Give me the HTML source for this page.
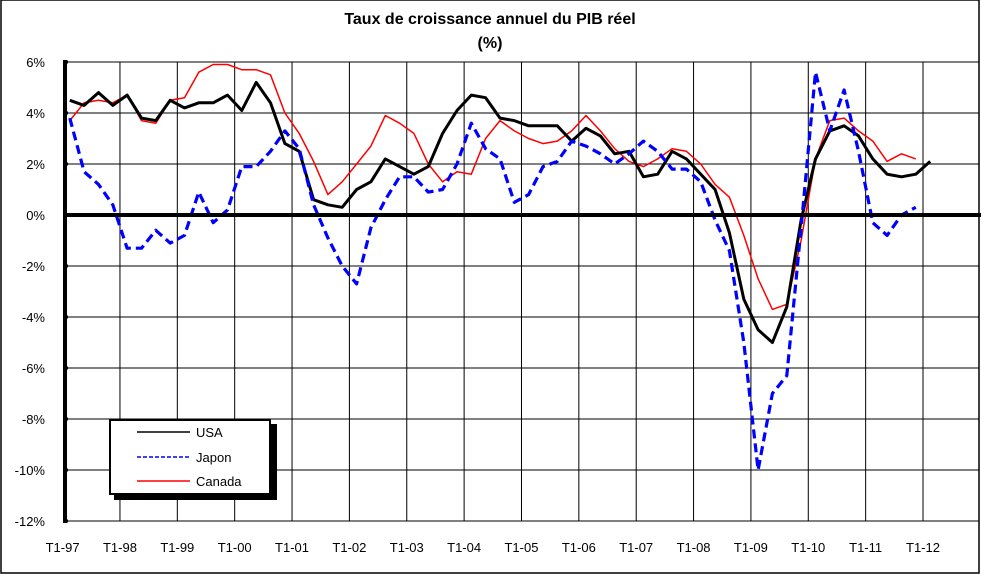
<!DOCTYPE html>
<html><head><meta charset="utf-8"><style>
html,body{margin:0;padding:0;background:#fff;}
svg{display:block;font-family:"Liberation Sans",Arial,sans-serif;}
</style></head><body>
<svg id="c" width="981" height="574" viewBox="0 0 981 574" xmlns="http://www.w3.org/2000/svg">
<rect x="1" y="0" width="978" height="573" fill="#fff" stroke="#000" stroke-width="1.5"/>
<text x="490" y="24" text-anchor="middle" font-size="16" font-weight="bold">Taux de croissance annuel du PIB réel</text>
<text x="490" y="48" text-anchor="middle" font-size="16" font-weight="bold">(%)</text>
<g id="grid" stroke="#000" stroke-width="1"></g>
<g id="lbl" font-size="13" fill="#000"></g>
<g id="series" fill="none"></g>
<g>
<rect x="114" y="424" width="163" height="76" fill="#000"/>
<rect x="110" y="420" width="160" height="74" fill="#fff" stroke="#000" stroke-width="2"/>
<line x1="137" y1="432" x2="190" y2="432" stroke="#000" stroke-width="1.5"/>
<line x1="137" y1="457" x2="190" y2="457" stroke="#00f" stroke-width="1.5" stroke-dasharray="4,2"/>
<line x1="137" y1="481" x2="190" y2="481" stroke="#f00" stroke-width="1.5"/>
<text x="196" y="437" font-size="13">USA</text>
<text x="196" y="462" font-size="13">Japon</text>
<text x="196" y="486" font-size="13">Canada</text>
</g>
</svg>
<script>
var NS="http://www.w3.org/2000/svg";
function el(p,t,a,txt){var e=document.createElementNS(NS,t);for(var k in a)e.setAttribute(k,a[k]);if(txt!=null)e.textContent=txt;p.appendChild(e);return e;}
var g=document.getElementById('grid'),l=document.getElementById('lbl'),s=document.getElementById('series');
var X0=62.6,DX=57.36,Y0=215,DY=25.5;
function Y(v){return Y0-v*DY;}
for(var v=-12;v<=6;v+=2){ if(v!=0) el(g,'line',{x1:64,x2:979,y1:Y(v),y2:Y(v)});
 el(l,'text',{x:45,y:Y(v)+5,'text-anchor':'end'},v+'%');}
var yrs=['97','98','99','00','01','02','03','04','05','06','07','08','09','10','11','12'];
for(var k=0;k<16;k++){var x=X0+DX*k; if(k>0) el(g,'line',{x1:x,x2:x,y1:Y(6),y2:Y(-12)});
 el(l,'text',{x:x,y:552,'text-anchor':'middle'},'T1-'+yrs[k]);}
el(g,'line',{x1:979,x2:979,y1:Y(6),y2:Y(-12)});
var usa=[4.5,4.3,4.8,4.3,4.7,3.8,3.7,4.5,4.2,4.4,4.4,4.7,4.1,5.2,4.4,2.8,2.5,0.6,0.4,0.3,1.0,1.3,2.2,1.9,1.6,1.9,3.2,4.1,4.7,4.6,3.8,3.7,3.5,3.5,3.5,2.9,3.4,3.1,2.4,2.5,1.5,1.6,2.5,2.2,1.6,1.0,-0.7,-3.3,-4.5,-5.0,-3.6,-0.2,2.2,3.3,3.5,3.1,2.2,1.6,1.5,1.6,2.1];
var jp=[3.8,1.7,1.2,0.4,-1.3,-1.3,-0.6,-1.1,-0.8,0.9,-0.3,0.2,1.9,1.9,2.5,3.3,2.6,0.4,-0.9,-2.0,-2.7,-0.5,0.6,1.5,1.5,0.9,1.0,2.0,3.6,2.6,2.2,0.5,0.8,1.9,2.1,2.9,2.7,2.4,2.0,2.4,2.9,2.5,1.8,1.8,1.3,-0.2,-1.4,-5.0,-10.0,-7.0,-6.3,-0.5,5.6,3.3,4.9,2.5,-0.3,-0.8,0.0,0.3];
var ca=[3.7,4.4,4.5,4.4,4.7,3.7,3.6,4.5,4.6,5.6,5.9,5.9,5.7,5.7,5.5,4.0,3.2,2.1,0.8,1.3,2.0,2.7,3.9,3.6,3.2,2.0,1.3,1.7,1.6,3.0,3.7,3.3,3.0,2.8,2.9,3.3,3.9,3.3,2.6,2.1,1.9,2.2,2.6,2.5,2.0,1.2,0.7,-0.8,-2.5,-3.7,-3.5,-1.0,2.2,3.7,3.8,3.3,2.9,2.1,2.4,2.2];
function pts(a){return a.map(function(v,i){return (X0+DX/4*(i+0.5)).toFixed(1)+','+Y(v).toFixed(1);}).join(' ');}
el(s,'polyline',{points:pts(ca),stroke:'#f00','stroke-width':1.5,'stroke-linejoin':'round'});
el(s,'polyline',{points:pts(usa),stroke:'#000','stroke-width':3,'stroke-linejoin':'round'});
el(s,'polyline',{points:pts(jp),stroke:'#00f','stroke-width':3.2,'stroke-dasharray':'9,5','stroke-linejoin':'round'});
el(s,'line',{x1:64,x2:981,y1:Y0,y2:Y0,stroke:'#000','stroke-width':4});
el(s,'line',{x1:65,x2:65,y1:Y(6)-2,y2:Y(-12)+2,stroke:'#000','stroke-width':4});
for(var v=-12;v<=6;v+=2) el(s,'line',{x1:63,x2:68,y1:Y(v),y2:Y(v),stroke:'#000','stroke-width':3});
</script>
</body></html>
